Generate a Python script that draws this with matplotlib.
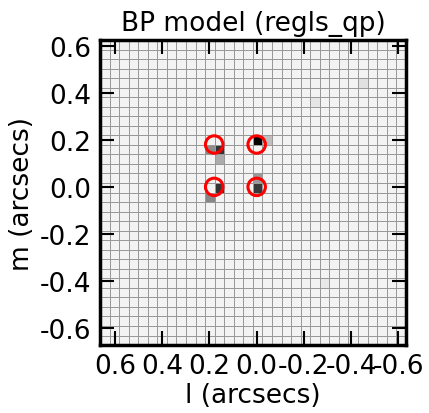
import numpy as np
import matplotlib
matplotlib.use("Agg")
import matplotlib.pyplot as plt
from matplotlib.patches import Circle

# Image grid (32 x 32 pixels), extent in arcsec
n_pix = 32
l_left, l_right = 0.664, -0.632
m_top, m_bottom = 0.624, -0.672
background = 0.05

# Non-background pixels: column index (from left), row index (from top), value
bright_cols = [16, 17, 12, 11, 12, 12, 11, 16, 16, 27, 22, 23]
bright_rows = [10, 10, 11, 11, 12, 15, 16, 15, 14, 4, 6, 25]
bright_vals = [1.00, 0.25, 0.80, 0.45, 0.33, 0.80, 0.47, 0.78, 0.40, 0.12, 0.10, 0.09]

# Source positions (red circles)
circ_l = [0.18, 0.0, 0.18, 0.0]
circ_m = [0.18, 0.18, 0.0, 0.0]

ticks = [-0.6, -0.4, -0.2, 0.0, 0.2, 0.4, 0.6]

img = np.full((n_pix, n_pix), background)
for c, r, v in zip(bright_cols, bright_rows, bright_vals):
    img[r, c] = v

l_edges = np.linspace(l_left, l_right, n_pix + 1)
m_edges = np.linspace(m_top, m_bottom, n_pix + 1)

fig = plt.figure(figsize=(4.29, 4.14), dpi=100)
ax = fig.add_axes([0.233, 0.164, 0.713, 0.737])
ax.pcolormesh(l_edges, m_edges, img, cmap='gray_r', vmin=0, vmax=1,
              edgecolors='#999999', linewidth=0.65)
for x, y in zip(circ_l, circ_m):
    ax.add_patch(Circle((x, y), 0.037, fill=False, edgecolor='red', linewidth=2.2, zorder=5))

ax.set_xlim(l_left, l_right)
ax.set_ylim(m_bottom, m_top)
ax.set_xticks(ticks)
ax.set_yticks(ticks)
ax.set_xticklabels([f"{t:.1f}" for t in ticks])
ax.set_yticklabels([f"{t:.1f}" for t in ticks])
ax.tick_params(direction='in', length=10, width=1.5, top=True, right=True, labelsize=19)
ax.tick_params(axis='x', pad=6)
ax.tick_params(axis='y', pad=6)
for s in ax.spines.values():
    s.set_linewidth(2.5)
ax.set_xlabel('l (arcsecs)', fontsize=19, labelpad=2)
ax.set_ylabel('m (arcsecs)', fontsize=19, labelpad=4)
ax.set_title('BP model (regls_qp)', fontsize=19, pad=7)

fig.savefig('out.png', dpi=100)
